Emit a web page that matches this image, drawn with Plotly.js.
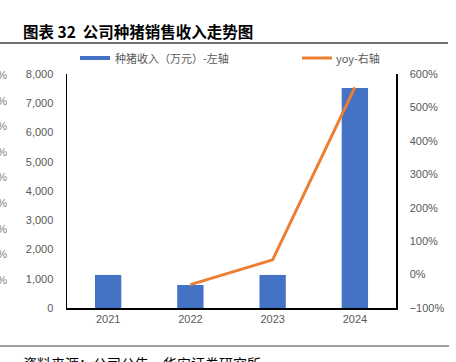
<!DOCTYPE html>
<html><head><meta charset="utf-8">
<script src="https://cdn.plot.ly/plotly-3.0.1.min.js"></script>
<style>html,body{margin:0;padding:0;background:#fff;}#c{width:456px;height:362px;}</style>
</head><body><div id="c"></div>
<script>
const years = ['2021','2022','2023','2024'];
const revenue = [1130, 786, 1130, 7520];
const yoyYears = ['2022','2023','2024'];
const yoy = [-0.30, 0.44, 5.60];
const titleText = '图表 32  公司种猪销售收入走势图';
const barName = '种猪收入（万元）-左轴';
const lineName = 'yoy-右轴';
const sourceText = '资料来源：公司公告，华安证券研究所';
const strayLabels = ['0%','0%','0%','0%','0%','0%','0%','0%','0%'];

const L=67, R=396, T=74, B=308, W=R-L, H=B-T;
const px = x => (x-L)/W;
const py = y => (B-y)/H;
const numFont = 'Liberation Sans, Arial, sans-serif';
const cjk = '"Noto Sans CJK SC", sans-serif';

const traces = [
  {type:'bar', x:years, y:revenue, name:barName, marker:{color:'#4472C4'}, width:0.32, yaxis:'y', hoverinfo:'none'},
  {type:'scatter', mode:'lines', x:yoyYears, y:yoy, name:lineName, line:{color:'#ED7D31', width:3}, yaxis:'y2', hoverinfo:'none'}
];

const annotations = [
  {xref:'paper', yref:'paper', x:px(21), y:py(31), xanchor:'left', yanchor:'middle', text:'<b>'+titleText+'</b>', showarrow:false, font:{family:cjk, size:15.5, color:'#000'}},
  {xref:'paper', yref:'paper', x:px(113), y:py(58), xanchor:'left', yanchor:'middle', text:barName, showarrow:false, font:{family:cjk, size:11, color:'#595959'}},
  {xref:'paper', yref:'paper', x:px(334), y:py(58), xanchor:'left', yanchor:'middle', text:lineName, showarrow:false, font:{family:cjk, size:11, color:'#595959'}},
  {xref:'paper', yref:'paper', x:px(21), y:py(351), xanchor:'left', yanchor:'top', text:sourceText, showarrow:false, font:{family:cjk, size:14, color:'#000'}}
];
strayLabels.forEach((t,i)=>{
  annotations.push({xref:'paper', yref:'paper', x:px(9), y:py(75+i*25.6), xanchor:'right', yanchor:'middle', text:'0'+t, showarrow:false, font:{family:numFont, size:11, color:'#7f7f7f'}});
});

const shapes = [
  {type:'line', xref:'paper', yref:'paper', x0:px(0), x1:px(448), y0:py(43), y1:py(43), line:{color:'#404040', width:1.5}},
  {type:'line', xref:'paper', yref:'paper', x0:px(0), x1:px(449), y0:py(346), y1:py(346), line:{color:'#404040', width:1.2}},
  {type:'rect', xref:'paper', yref:'paper', x0:px(80), x1:px(110), y0:py(56), y1:py(60), fillcolor:'#4472C4', line:{width:0}},
  {type:'line', xref:'paper', yref:'paper', x0:px(302), x1:px(332), y0:py(58), y1:py(58), line:{color:'#ED7D31', width:3}}
];

const layout = {
  width:456, height:362,
  margin:{l:L, r:456-R, t:T, b:362-B, pad:0},
  paper_bgcolor:'#fff', plot_bgcolor:'#fff',
  showlegend:false,
  xaxis:{type:'category', showline:true, linecolor:'#000', linewidth:1.5, ticks:'', showgrid:false, zeroline:false,
         tickfont:{family:numFont, size:11, color:'#595959'}, mirror:false},
  yaxis:{range:[0,8000], dtick:1000, tickformat:',', showline:true, linecolor:'#000', linewidth:1.5, showgrid:false, zeroline:false,
         ticks:'', ticklen:0, tickfont:{family:numFont, size:11, color:'#595959'}, ticklabelstandoff:10},
  yaxis2:{overlaying:'y', side:'right', range:[-1,6], dtick:1, tickformat:'.0%', showline:true, linecolor:'#000', linewidth:1.5,
          showgrid:false, zeroline:false, ticks:'', tickfont:{family:numFont, size:11, color:'#595959'}, ticklabelstandoff:10},
  annotations:annotations, shapes:shapes
};
Plotly.newPlot('c', traces, layout, {staticPlot:true, displayModeBar:false});
</script></body></html>
